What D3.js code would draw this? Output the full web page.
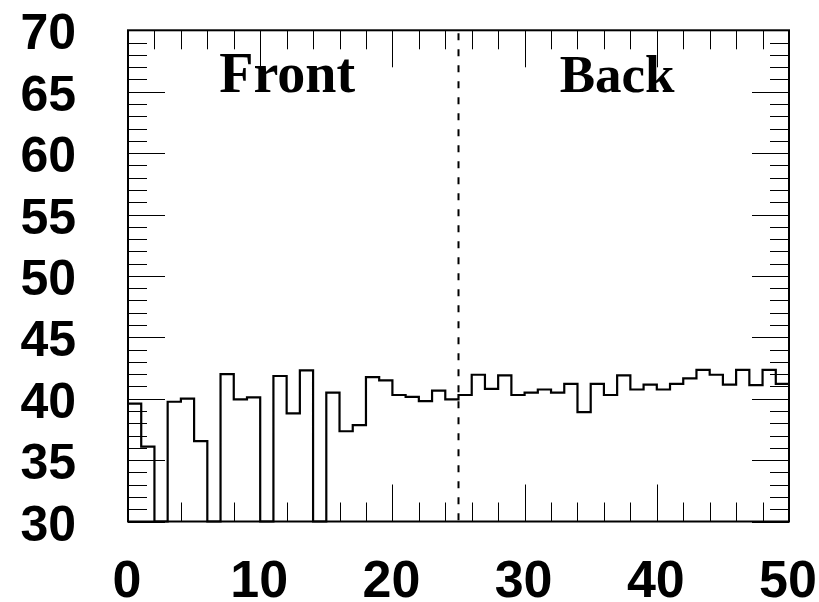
<!DOCTYPE html>
<html>
<head>
<meta charset="utf-8">
<script src="https://cdn.jsdelivr.net/npm/d3@7"></script>
<style>
  html, body { margin: 0; padding: 0; background: #fff; }
  svg { display: block; }
</style>
</head>
<body>
<svg id="chart" width="819" height="602"></svg>
<script>
// Histogram contents, one value per unit-wide bin over [0, 50]; 0 = empty bin
const binValues = [
  39.6, 36.1, 0, 39.75, 40.0, 36.55, 0, 42.0, 39.95, 40.1,
  0, 41.85, 38.8, 42.3, 0, 40.5, 37.35, 37.85, 41.75, 41.5,
  40.3, 40.15, 39.8, 40.65, 39.95, 40.3, 41.95, 40.8, 41.9, 40.3,
  40.5, 40.75, 40.5, 41.2, 38.9, 41.2, 40.3, 41.9, 40.75, 41.15,
  40.75, 41.2, 41.65, 42.35, 41.95, 41.15, 42.35, 41.1, 42.35, 41.2
];
const xDomain = [0, 50];
const yDomain = [30, 70];
const xLabelTicks = [0, 10, 20, 30, 40, 50];
const yLabelTicks = [30, 35, 40, 45, 50, 55, 60, 65, 70];
const dividerAt = 25;
const regionLabels = ["Front", "Back"];
const regionLabelAt = [6.9, 32.65];

const svg = d3.select("#chart");
const frame = { left: 128, right: 789, top: 30.3, bottom: 521.5 };

const x = d3.scaleLinear().domain(xDomain).range([frame.left, frame.right]);
const y = d3.scaleLinear().domain(yDomain).range([frame.bottom, frame.top]).clamp(true);

// Tick positions: minor every 2 on x (major every 10), minor every 1 on y (major every 5)
const xMinor = d3.range(xDomain[0], xDomain[1] + 0.001, 2);
const yMinor = d3.range(yDomain[0], yDomain[1] + 0.001, 1);
const minorLen = 19, majorLen = 37;

const ticks = svg.append("g").attr("stroke", "#000").attr("stroke-width", 1);
xMinor.forEach(v => {
  const len = (v % 10 === 0) ? majorLen : minorLen;
  const px = Math.round(x(v)) + 0.5;
  ticks.append("line").attr("x1", px).attr("x2", px)
    .attr("y1", frame.bottom).attr("y2", frame.bottom - len);
  ticks.append("line").attr("x1", px).attr("x2", px)
    .attr("y1", frame.top).attr("y2", frame.top + len);
});
yMinor.forEach(v => {
  const len = (v % 5 === 0) ? majorLen : minorLen;
  const py = Math.round(y(v)) + 0.5;
  ticks.append("line").attr("y1", py).attr("y2", py)
    .attr("x1", frame.left).attr("x2", frame.left + len);
  ticks.append("line").attr("y1", py).attr("y2", py)
    .attr("x1", frame.right).attr("x2", frame.right - len);
});

// Step outline of the histogram
let d = `M${x(0)},${y(binValues[0])}`;
binValues.forEach((v, i) => {
  d += `V${y(v)}H${x(i + 1)}`;
});
svg.append("path")
  .attr("d", d)
  .attr("fill", "none")
  .attr("stroke", "#000")
  .attr("stroke-width", 2.2)
  .attr("stroke-linejoin", "miter");

// Dashed divider between the two regions
svg.append("line")
  .attr("x1", x(dividerAt)).attr("x2", x(dividerAt))
  .attr("y1", frame.top).attr("y2", frame.bottom)
  .attr("stroke", "#000")
  .attr("stroke-width", 2)
  .attr("stroke-dasharray", "7,9")
  .attr("stroke-dashoffset", -3);

// Frame
svg.append("rect")
  .attr("x", frame.left).attr("y", frame.top)
  .attr("width", frame.right - frame.left)
  .attr("height", frame.bottom - frame.top)
  .attr("fill", "none")
  .attr("stroke", "#000")
  .attr("stroke-width", 2);

// Axis labels
svg.append("g")
  .selectAll("text")
  .data(yLabelTicks)
  .join("text")
  .attr("x", 76)
  .attr("y", v => y(v) + 19)
  .attr("text-anchor", "end")
  .attr("font-family", "'Liberation Sans', Arial, sans-serif")
  .attr("font-weight", "bold")
  .attr("font-size", 50)
  .text(v => v);

svg.append("g")
  .selectAll("text")
  .data(xLabelTicks)
  .join("text")
  .attr("x", v => x(v) - 1)
  .attr("y", 597)
  .attr("text-anchor", "middle")
  .attr("font-family", "'Liberation Sans', Arial, sans-serif")
  .attr("font-weight", "bold")
  .attr("font-size", 52)
  .text(v => v);

// Region names
svg.append("g")
  .selectAll("text")
  .data(regionLabels)
  .join("text")
  .attr("x", (t, i) => x(regionLabelAt[i]))
  .attr("y", 92)
  .attr("font-family", "'Liberation Serif', 'Times New Roman', serif")
  .attr("font-weight", "bold")
  .attr("font-size", (t, i) => i === 0 ? 56 : 53)
  .text(t => t);
</script>
</body>
</html>
